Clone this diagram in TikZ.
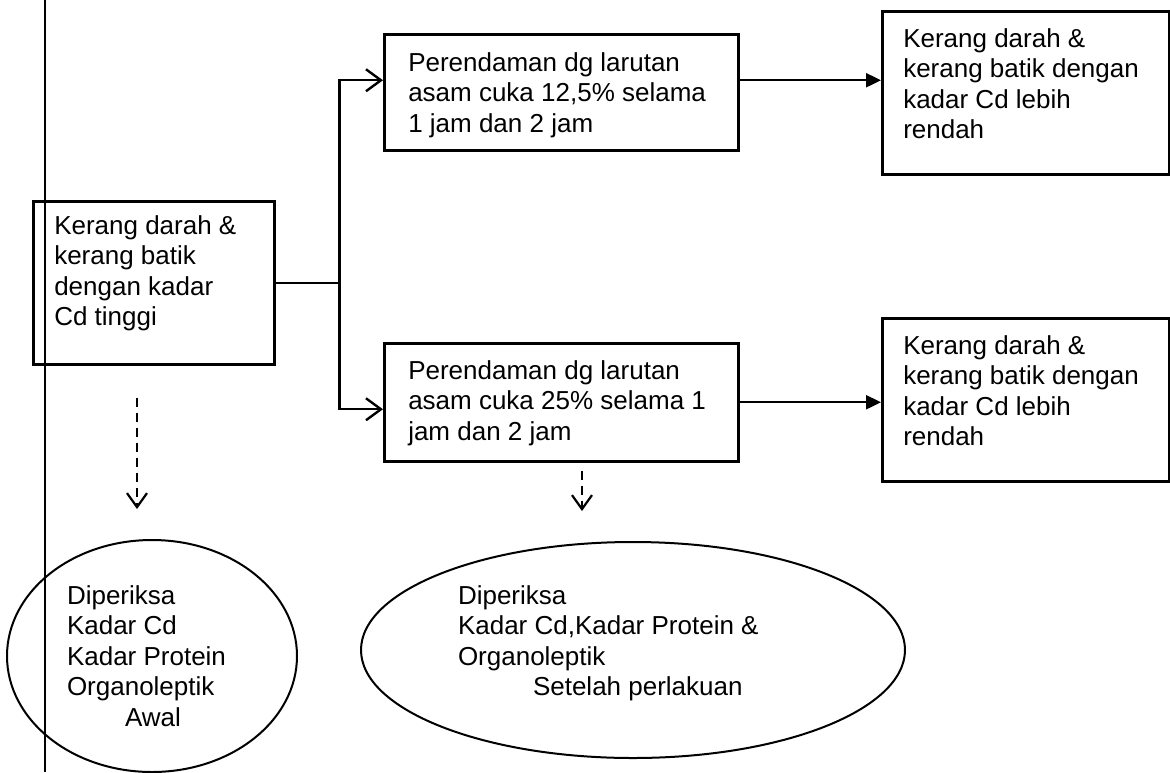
\documentclass[tikz,border=0pt]{standalone}
\usepackage{fontspec}
\setmainfont{Liberation Sans}
\usetikzlibrary{shapes.geometric,arrows.meta}
% text block of a box: width, height, first baseline, lines
\newcommand{\boxlines}[4]{\parbox[c][#2][t]{#1}{\rule{0pt}{#3}#4}}

\begin{document}
\begin{tikzpicture}[x=1pt,y=-1pt,
  font=\fontsize{26pt}{30.5pt}\selectfont,
  box/.style={draw,line width=2.5pt,anchor=north west,inner ysep=0pt},
  oval/.style={draw,ellipse,line width=2pt,inner sep=0pt},
  link/.style={line width=2.4pt},
  toopen/.style={link,-{Straight Barb[length=15pt,width=22pt]}},
  tofill/.style={link,-{Triangle[length=15pt,width=14pt]}},
  todash/.style={line width=2.2pt,dash pattern=on 9pt off 6pt,-{Straight Barb[length=14pt,width=20pt]}}]
%
\useasboundingbox (0,0) rectangle (1170,772);
%
% margin line of the page
\draw[line width=2.7pt] (45,0) -- (45,772);
%
% boxes
\node[box,inner xsep=21pt] (src) at (32,200) {\boxlines{199pt}{163pt}{33pt}{Kerang darah \&\\kerang batik\\dengan kadar\\Cd tinggi}};
\node[box,inner xsep=24pt] (soak1) at (383,33) {\boxlines{306pt}{116pt}{37pt}{Perendaman dg larutan\\asam cuka 12,5\% selama\\1 jam dan 2 jam}};
\node[box,inner xsep=24pt] (soak2) at (383,342) {\boxlines{306pt}{118pt}{36pt}{Perendaman dg larutan\\asam cuka 25\% selama 1\\jam dan 2 jam}};
\node[box,inner xsep=21pt] (res1) at (881,10) {\boxlines{245pt}{163pt}{36pt}{Kerang darah \&\\kerang batik dengan\\kadar Cd lebih\\rendah}};
\node[box,inner xsep=21pt] (res2) at (881,317) {\boxlines{245pt}{163pt}{36pt}{Kerang darah \&\\kerang batik dengan\\kadar Cd lebih\\rendah}};
%
% checks (ellipses)
\node[oval,minimum width=290pt,minimum height=232pt] (chk1) at (152,656) {\parbox{170pt}{Diperiksa\\Kadar Cd\\Kadar Protein\\Organoleptik\\\hspace*{58pt}Awal}};
\node[oval,minimum width=544pt,minimum height=216pt] (chk2) at (633,650) {\parbox{350pt}{Diperiksa\\Kadar Cd,Kadar Protein \&\\Organoleptik\\\hspace*{75pt}Setelah perlakuan\rule[-19pt]{0pt}{19pt}}};
%
% split to the two soakings
\draw[link] (src.east) -- ++(64,0) coordinate (fork);
\draw[toopen] (fork) |- ([yshift=12pt]soak1.west);
\draw[toopen] (fork) |- ([yshift=-7pt]soak2.west);
%
% results
\draw[tofill] ([yshift=12pt]soak1.east) coordinate (a1) -- (a1 -| res1.west);
\draw[tofill] (soak2.east) -- (soak2.east -| res2.west);
%
% dashed arrows to the checks
\coordinate (d1) at (137,0);
\coordinate (d2) at (582,0);
\draw[todash,shorten <=32pt,shorten >=30pt] (src.south -| d1) -- (chk1.north -| d1);
\draw[todash,shorten <=8pt,shorten >=30pt] (soak2.south -| d2) -- (chk2.north -| d2);
%
\end{tikzpicture}
\end{document}
